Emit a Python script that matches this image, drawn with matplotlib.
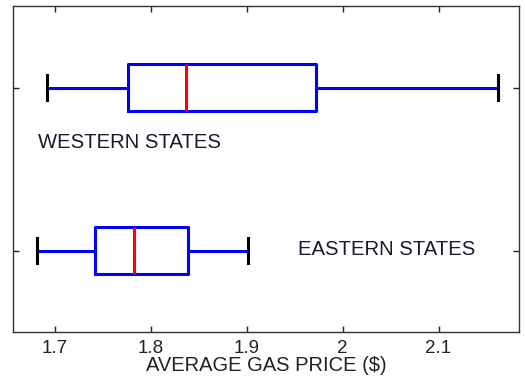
import numpy as np
import matplotlib.pyplot as plt

plt.rcParams['font.family'] = ['Liberation Sans', 'DejaVu Sans']

# Box summary per region: whisker low, Q1, median, Q3, whisker high
groups = ["EASTERN STATES", "WESTERN STATES"]
whislo = [1.681, 1.691]
q1 = [1.742, 1.776]
med = [1.782, 1.836]
q3 = [1.839, 1.972]
whishi = [1.901, 2.162]

xticks = [1.7, 1.8, 1.9, 2.0, 2.1]
xticklabels = ["1.7", "1.8", "1.9", "2", "2.1"]

stats = []
for i in range(len(groups)):
    stats.append({"whislo": whislo[i], "q1": q1[i], "med": med[i],
                  "q3": q3[i], "whishi": whishi[i], "fliers": []})

fig = plt.figure(figsize=(5.25, 3.83), dpi=100)
ax = fig.add_axes([0.0248, 0.133, 0.9638, 0.851])

ax.bxp(stats, positions=[1, 2], vert=False, widths=0.29, showfliers=False,
       boxprops=dict(color="blue", linewidth=2.2),
       whiskerprops=dict(color="blue", linewidth=2.2),
       capprops=dict(color="black", linewidth=2.2),
       medianprops=dict(color="red", linewidth=2.2),
       capwidths=0.15)

ax.set_xlim(1.656, 2.184)
ax.set_ylim(0.5, 2.5)
ax.set_xticks(xticks)
ax.set_xticklabels(xticklabels)
ax.set_yticks([1, 2])
ax.set_yticklabels([])
ax.tick_params(direction="in", length=4, width=1, top=True, right=True,
               labelsize=13.5, colors="#222222", pad=6)
for s in ax.spines.values():
    s.set_linewidth(1.0)
    s.set_color("#333333")

ax.set_xlabel("AVERAGE GAS PRICE ($)", fontsize=14.5, color="#222222", labelpad=-1)

ax.text(1.682, 1.63, groups[1], fontsize=14.6, color="#1a1a2e")
ax.text(1.953, 0.97, groups[0], fontsize=14.6, color="#1a1a2e")

fig.savefig("out.png", dpi=100)
